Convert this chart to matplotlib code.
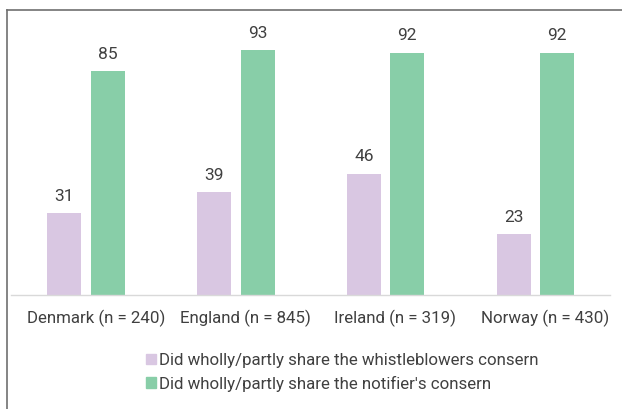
import matplotlib.pyplot as plt
from matplotlib.lines import Line2D
from matplotlib.patches import Patch
import numpy as np

# data
categories = ["Denmark (n = 240)", "England (n = 845)", "Ireland (n = 319)", "Norway (n = 430)"]
whistle = [31, 39, 46, 23]
notifier = [85, 93, 92, 92]
series_names = ["Did wholly/partly share the whistleblowers consern",
                "Did wholly/partly share the notifier's consern"]

purple = "#D9C7E2"
green = "#88CEA8"
txt = "#404040"

plt.rcParams['font.family'] = ['Roboto', 'DejaVu Sans']

fig = plt.figure(figsize=(6.22, 4.09), dpi=100)
ax = fig.add_axes([0.018, 0.279, 0.963, 0.643])

x = np.arange(len(categories))
w = 0.227
off = 0.145
b1 = ax.bar(x - off, whistle, w, color=purple)
b2 = ax.bar(x + off, notifier, w, color=green)

for bars, vals in [(b1, whistle), (b2, notifier)]:
    for r, v in zip(bars, vals):
        ax.annotate(str(v), (r.get_x() + r.get_width() / 2, v), xytext=(0, 7),
                    textcoords="offset points", ha="center", va="bottom",
                    fontsize=12.5, color=txt)

ax.set_xlim(-0.5, 3.5)
ax.set_ylim(0, 100)
# category labels sit slightly right of the bar pairs in the original
ax.set_xticks(x + 0.065)
ax.set_xticklabels(categories, fontsize=12.2, color=txt)
ax.tick_params(axis="x", length=0, pad=11)
ax.set_yticks([])
for s in ["top", "right", "left"]:
    ax.spines[s].set_visible(False)
ax.spines["bottom"].set_color("#D9D9D9")
ax.spines["bottom"].set_linewidth(1)

handles = [Patch(color=purple), Patch(color=green)]
fig.legend(handles, series_names, loc="center", bbox_to_anchor=(0.55, 0.09),
           frameon=False, fontsize=12.2, labelcolor=txt, handlelength=0.6,
           handleheight=0.6, handletextpad=0.15, labelspacing=0.45)

# outer frame (left and top edges visible)
fig.add_artist(Line2D([7.5 / 622, 7.5 / 622], [0, 1 - 9.5 / 409], color="#707070", lw=1.2))
fig.add_artist(Line2D([7.5 / 622, 1], [1 - 9.5 / 409, 1 - 9.5 / 409], color="#707070", lw=1.2))

fig.savefig("out.png", dpi=100)
